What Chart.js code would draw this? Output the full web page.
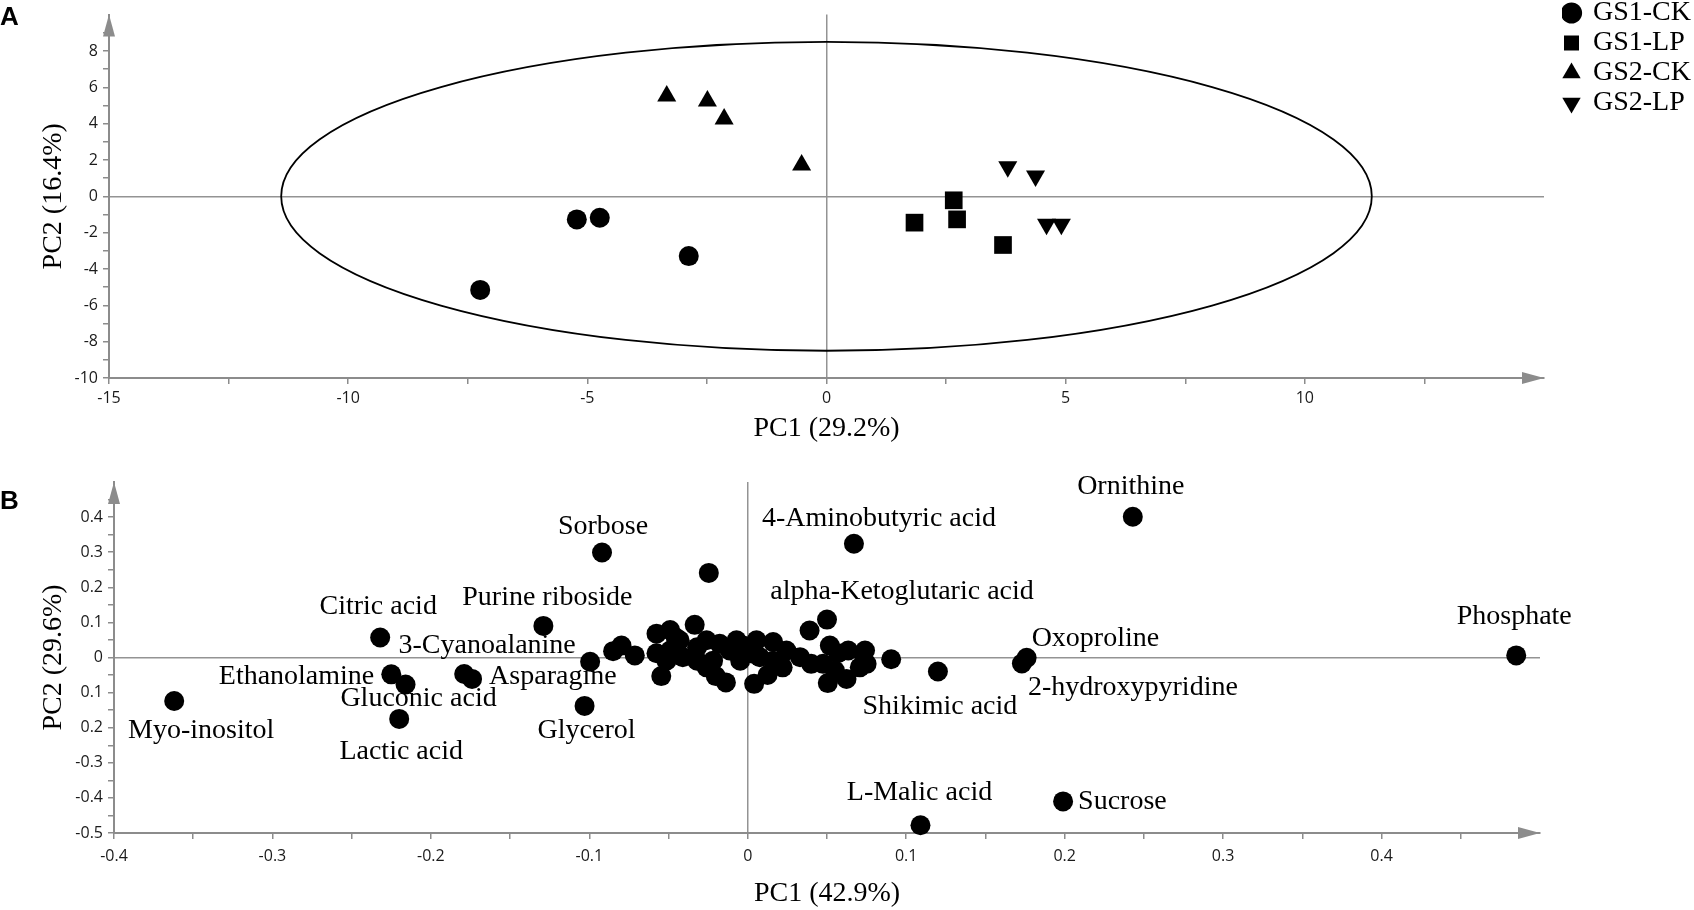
<!DOCTYPE html>
<html>
<head>
<meta charset="utf-8">
<title>PCA scores and loadings</title>
<script src="https://cdn.jsdelivr.net/npm/chart.js@4.4.1/dist/chart.umd.min.js"></script>
<style>
  body { margin: 0; background: #fff; }
  #wrap { position: relative; width: 1694px; height: 910px; }
  .panel { position: absolute; left: 0; width: 1694px; height: 455px; }
</style>
</head>
<body>
<div id="wrap">
  <div class="panel" style="top:0"><canvas id="scoreChart"></canvas></div>
  <div class="panel" style="top:455px"><canvas id="loadingChart"></canvas></div>
</div>
<script>
// ---- Panel A: PCA scores ----
const groupNames = ['GS1-CK', 'GS1-LP', 'GS2-CK', 'GS2-LP'];
const gs1ckPC1 = [-5.22, -4.74, -2.88, -7.24];
const gs1ckPC2 = [-1.27, -1.18, -3.29, -5.15];
const gs1lpPC1 = [2.66, 1.84, 2.73, 3.69];
const gs1lpPC2 = [-0.22, -1.45, -1.27, -2.68];
const gs2ckPC1 = [-3.34, -2.49, -2.14, -0.52];
const gs2ckPC2 = [5.52, 5.24, 4.25, 1.72];
const gs2lpPC1 = [3.79, 4.37, 4.60, 4.91];
const gs2lpPC2 = [1.63, 1.12, -1.54, -1.54];
// Hotelling T2 ellipse half axes (PC1, PC2)
const ellipseRadii = [11.4, 8.5];

const scoreXTicks = [-15, -10, -5, 0, 5, 10];
const scoreXLabels = ['-15', '-10', '-5', '0', '5', '10'];
const scoreYTicks = [-10, -8, -6, -4, -2, 0, 2, 4, 6, 8];
const scoreYLabels = ['-10', '-8', '-6', '-4', '-2', '0', '2', '4', '6', '8'];

// ---- Panel B: PCA loadings ----
const namedMetabolites = [
  'Myo-inositol', 'Citric acid', 'Ethanolamine', 'Gluconic acid', 'Lactic acid',
  '3-Cyanoalanine', 'Asparagine', 'Purine riboside', 'Sorbose', 'Glycerol',
  '4-Aminobutyric acid', 'alpha-Ketoglutaric acid', 'Ornithine', 'Oxoproline',
  '2-hydroxypyridine', 'Shikimic acid', 'Phosphate', 'L-Malic acid', 'Sucrose'
];
const namedPC1 = [-0.362, -0.232, -0.225, -0.216, -0.220, -0.179, -0.174, -0.129, -0.092, -0.103,
  0.067, 0.050, 0.243, 0.176, 0.173, 0.120, 0.485, 0.109, 0.199];
const namedPC2 = [-0.124, 0.057, -0.048, -0.077, -0.175, -0.047, -0.061, 0.090, 0.299, -0.138,
  0.324, 0.108, 0.401, -0.001, -0.017, -0.040, 0.006, -0.478, -0.410];

// unlabelled metabolites (mostly the cluster round the origin)
const otherPC1 = [-0.0246, -0.0335, 0.039, 0.0905, -0.0995, -0.0546, -0.0202, -0.0138, 0.004, 0.0125,
  0.0505, 0.0623, 0.0707, 0.0729, 0.0634, 0.0518, -0.085, -0.0797, -0.0713, -0.0576,
  -0.049, -0.0455, -0.0576, -0.049, -0.043, -0.041, -0.032, -0.026, -0.0177, -0.0114,
  -0.0071, -0.0008, 0.0034, -0.0513, -0.032, -0.0219, -0.026, -0.0048, 0.0055, 0.016,
  0.0244, 0.033, 0.040, 0.0475, 0.055, 0.057, 0.0076, 0.016, 0.022, 0.075, 0.074, -0.003];
const otherPC2 = [0.241, 0.093, 0.077, -0.005, -0.012, -0.053, -0.053, -0.071, -0.075, -0.050,
  -0.073, -0.061, -0.028, 0.011, 0.020, 0.034, 0.018, 0.034, 0.006, 0.068,
  0.078, 0.057, 0.012, 0.020, 0.049, 0.001, 0.029, 0.049, 0.039, 0.020,
  0.049, 0.029, 0.011, -0.009, -0.009, -0.009, -0.028, -0.009, 0.049, 0.044,
  0.020, 0.001, -0.018, -0.018, -0.037, 0.012, 0.001, -0.009, -0.028, -0.018, 0.020, 0.034];

const loadingXTicks = [-0.4, -0.3, -0.2, -0.1, 0, 0.1, 0.2, 0.3, 0.4];
const loadingXLabels = ['-0.4', '-0.3', '-0.2', '-0.1', '0', '0.1', '0.2', '0.3', '0.4'];
const loadingYTicks = [0.4, 0.3, 0.2, 0.1, 0, -0.1, -0.2, -0.3, -0.4, -0.5];
const loadingYLabels = ['0.4', '0.3', '0.2', '0.1', '0', '0.1', '0.2', '-0.3', '-0.4', '-0.5'];

// where each name sits next to its dot: [dx px, dy px, text align]
const labelPlacement = {
  'Myo-inositol': [27, 30, 'center'],
  'Citric acid': [-2, -31, 'center'],
  'Ethanolamine': [-17, 2, 'right'],
  'Gluconic acid': [13, 14, 'center'],
  'Lactic acid': [2, 33, 'center'],
  '3-Cyanoalanine': [23, -28, 'center'],
  'Asparagine': [17, -2, 'left'],
  'Purine riboside': [4, -28, 'center'],
  'Sorbose': [1, -26, 'center'],
  'Glycerol': [2, 25, 'center'],
  '4-Aminobutyric acid': [25, -25, 'center'],
  'alpha-Ketoglutaric acid': [75, -28, 'center'],
  'Ornithine': [-2, -30, 'center'],
  'Oxoproline': [5, -19, 'left'],
  '2-hydroxypyridine': [6, 24, 'left'],
  'Shikimic acid': [2, 35, 'center'],
  'Phosphate': [-2, -39, 'center'],
  'L-Malic acid': [-1, -33, 'center'],
  'Sucrose': [15, 0, 'left']
};

const AXIS_GREY = '#8c8c8c';
const ZERO_GREY = '#939393';
const NONE = 'rgba(0,0,0,0)';
const tickFont = { family: '"Open Sans", sans-serif', size: 16 };
const serifFont = { family: '"Liberation Serif", "Times New Roman", serif', size: 28 };

function pairs(xs, ys) {
  return xs.map((v, i) => ({ x: v, y: ys[i] }));
}

function tickText(values, labels) {
  return v => {
    const i = values.findIndex(t => Math.abs(t - v) < 1e-6);
    return i < 0 ? '' : labels[i];
  };
}

function axis(opts) {
  return {
    type: 'linear',
    min: opts.min,
    max: opts.max,
    afterFit: opts.fit,
    border: { display: true, color: AXIS_GREY, width: 2 },
    grid: {
      color: c => Math.abs(c.tick.value) < 1e-9 ? ZERO_GREY : NONE,
      lineWidth: 1.5,
      tickLength: 6,
      tickWidth: 1.5,
      tickColor: c => Math.abs(c.tick.value - opts.max) < 1e-9 ? NONE : AXIS_GREY
    },
    ticks: {
      stepSize: opts.step,
      maxTicksLimit: 100,
      autoSkip: false,
      maxRotation: 0,
      padding: opts.pad,
      color: '#1a1a1a',
      font: tickFont,
      callback: tickText(opts.tickValues, opts.tickLabels)
    },
    title: { display: true, text: opts.title, color: '#000', font: serifFont, padding: opts.titlePad }
  };
}

// arrow heads at the axis ends and the panel letter
const axisArrows = {
  id: 'axisArrows',
  afterDraw(chart, args, opts) {
    const { ctx, chartArea: { left, right, top, bottom } } = chart;
    ctx.save();
    ctx.fillStyle = AXIS_GREY;
    ctx.beginPath();
    ctx.moveTo(left, top);
    ctx.lineTo(left - 6, top + 22);
    ctx.lineTo(left + 6, top + 22);
    ctx.closePath();
    ctx.fill();
    ctx.beginPath();
    ctx.moveTo(right, bottom);
    ctx.lineTo(right - 22, bottom - 6);
    ctx.lineTo(right - 22, bottom + 6);
    ctx.closePath();
    ctx.fill();
    ctx.fillStyle = '#000';
    ctx.font = 'bold 26px "Liberation Sans", Arial, sans-serif';
    ctx.textAlign = 'left';
    ctx.textBaseline = 'middle';
    ctx.fillText(opts.letter, 0, opts.letterY);
    ctx.restore();
  }
};

const confidenceEllipse = {
  id: 'confidenceEllipse',
  beforeDatasetsDraw(chart) {
    const { ctx, scales: { x, y } } = chart;
    const cx = x.getPixelForValue(0), cy = y.getPixelForValue(0);
    const rx = x.getPixelForValue(ellipseRadii[0]) - cx;
    const ry = cy - y.getPixelForValue(ellipseRadii[1]);
    ctx.save();
    ctx.strokeStyle = '#000';
    ctx.lineWidth = 1.8;
    ctx.beginPath();
    ctx.ellipse(cx, cy, rx, ry, 0, 0, Math.PI * 2);
    ctx.stroke();
    ctx.restore();
  }
};

// put the legend in the top right corner, outside the plot
const legendCorner = {
  id: 'legendCorner',
  beforeDraw(chart, args, opts) {
    const lg = chart.legend;
    lg.left = opts.left;
    lg.top = opts.top;
    lg.right = opts.left + lg.width;
    lg.bottom = opts.top + lg.height;
  }
};

const loadingLabels = {
  id: 'loadingLabels',
  afterDatasetsDraw(chart) {
    const { ctx, scales: { x, y } } = chart;
    ctx.save();
    ctx.font = '28px "Liberation Serif", "Times New Roman", serif';
    ctx.fillStyle = '#000';
    ctx.textBaseline = 'middle';
    namedMetabolites.forEach((name, i) => {
      const [dx, dy, align] = labelPlacement[name];
      ctx.textAlign = align;
      ctx.fillText(name, x.getPixelForValue(namedPC1[i]) + dx, y.getPixelForValue(namedPC2[i]) + dy);
    });
    ctx.restore();
  }
};

const markerBase = { backgroundColor: '#000', borderColor: '#000', borderWidth: 0, clip: false };

new Chart(document.getElementById('scoreChart'), {
  type: 'scatter',
  data: {
    datasets: [
      { ...markerBase, label: groupNames[0], data: pairs(gs1ckPC1, gs1ckPC2), pointStyle: 'circle', pointRadius: 10 },
      { ...markerBase, label: groupNames[1], data: pairs(gs1lpPC1, gs1lpPC2), pointStyle: 'rect', pointRadius: 12.5 },
      { ...markerBase, label: groupNames[2], data: pairs(gs2ckPC1, gs2ckPC2), pointStyle: 'triangle', pointRadius: 11 },
      { ...markerBase, label: groupNames[3], data: pairs(gs2lpPC1, gs2lpPC2), pointStyle: 'triangle', pointRotation: 180, pointRadius: 11 }
    ]
  },
  options: {
    responsive: true,
    maintainAspectRatio: false,
    animation: false,
    events: [],
    layout: { padding: { left: 0, top: 9, right: 150, bottom: 7 } },
    scales: {
      x: axis({ min: -15, max: 15, step: 2.5, pad: 5, tickValues: scoreXTicks, tickLabels: scoreXLabels,
        title: 'PC1 (29.2%)', titlePad: { top: 0, bottom: 3 }, fit: s => { s.height = 70; } }),
      y: axis({ min: -10, max: 10, step: 1, pad: 5, tickValues: scoreYTicks, tickLabels: scoreYLabels,
        title: 'PC2 (16.4%)', titlePad: { top: 37, bottom: 0 }, fit: s => { s.width = 109; } })
    },
    plugins: {
      tooltip: { enabled: false },
      legend: {
        position: 'chartArea',
        align: 'start',
        labels: {
          usePointStyle: true,
          boxWidth: 15,
          boxHeight: 15,
          padding: 2,
          color: '#000',
          font: serifFont
        }
      },
      legendCorner: { left: 1562, top: -3 },
      axisArrows: { letter: 'A', letterY: 18 }
    }
  },
  plugins: [confidenceEllipse, legendCorner, axisArrows]
});

new Chart(document.getElementById('loadingChart'), {
  type: 'scatter',
  data: {
    datasets: [
      { ...markerBase, label: 'Named metabolites', data: pairs(namedPC1, namedPC2), pointStyle: 'circle', pointRadius: 10 },
      { ...markerBase, label: 'Other metabolites', data: pairs(otherPC1, otherPC2), pointStyle: 'circle', pointRadius: 10 }
    ]
  },
  options: {
    responsive: true,
    maintainAspectRatio: false,
    animation: false,
    events: [],
    layout: { padding: { left: 0, top: 27, right: 154, bottom: 0 } },
    scales: {
      x: axis({ min: -0.4, max: 0.5, step: 0.05, pad: 8, tickValues: loadingXTicks, tickLabels: loadingXLabels,
        title: 'PC1 (42.9%)', titlePad: { top: 0, bottom: 0 }, fit: s => { s.height = 77; } }),
      y: axis({ min: -0.5, max: 0.5, step: 0.05, pad: 5, tickValues: loadingYTicks, tickLabels: loadingYLabels,
        title: 'PC2 (29.6%)', titlePad: { top: 37, bottom: 0 }, fit: s => { s.width = 114; } })
    },
    plugins: {
      tooltip: { enabled: false },
      legend: { display: false },
      axisArrows: { letter: 'B', letterY: 47 }
    }
  },
  plugins: [loadingLabels, axisArrows]
});
</script>
</body>
</html>
